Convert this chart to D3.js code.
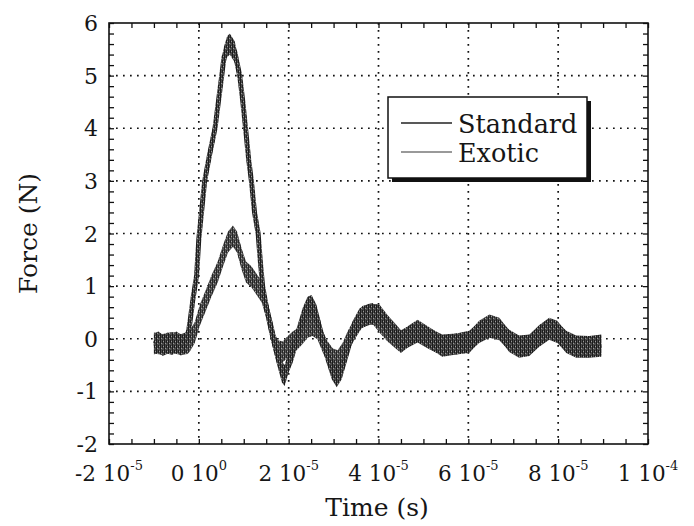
<!DOCTYPE html>
<html>
<head>
<meta charset="utf-8">
<script src="https://cdn.jsdelivr.net/npm/d3@7"></script>
<style>
  html, body { margin: 0; padding: 0; background: #fff; }
  svg { display: block; }
  text { font-family: "DejaVu Serif", "Liberation Serif", serif; fill: #161616; }
</style>
</head>
<body>
<svg id="chart" width="694" height="526"></svg>
<script>
// Force traces (N) against time (microseconds)
const standardTime = [-10, -9, -8, -7, -6, -5, -4, -3, -2.6, -2, -1.3, -0.5, 0, 1.3, 2.4, 3.6, 4.5, 5.1, 5.6, 6.3, 6.9, 8, 9.1, 9.8, 10.4, 11.1, 11.7, 12.4, 13.2, 13.7, 14.2, 15.1, 16.2, 17.3, 18.5, 19.1, 20, 20.9, 22, 23.1, 24.2, 25.1, 26.2, 27.3, 28.4, 29.6, 30.7, 31.8, 32.9, 34.2, 35.8, 38, 40.2, 42, 44, 45, 46.9, 48.7, 51.3, 54.2, 57.3, 60.2, 62.4, 64.7, 66.9, 69.1, 71.3, 73.6, 75.8, 78, 79.8, 81.8, 84, 86.9, 89.6];
const standardForce = [-0.1, -0.06, -0.13, -0.08, -0.11, -0.06, -0.12, -0.08, -0.02, 0.3, 0.76, 1.2, 1.9, 3.0, 3.5, 4.0, 4.6, 5.0, 5.35, 5.55, 5.6, 5.45, 5.0, 4.5, 4.0, 3.4, 3.0, 2.4, 2.0, 1.46, 1.0, 0.57, 0.13, -0.25, -0.63, -0.7, -0.44, -0.25, 0.06, 0.38, 0.6, 0.63, 0.44, 0.06, -0.25, -0.57, -0.72, -0.57, -0.25, 0.13, 0.38, 0.47, 0.45, 0.25, 0.06, -0.04, 0.05, 0.13, 0.0, -0.12, -0.1, -0.05, 0.12, 0.22, 0.17, -0.03, -0.14, -0.12, 0.05, 0.18, 0.12, -0.05, -0.14, -0.15, -0.12];

const exoticTime = [-10, -8, -6, -4, -2.5, -2, -0.9, 0.2, 1.7, 2.8, 4.2, 5.4, 6.5, 7.6, 8.5, 9.5, 10.5, 11.7, 12.8, 14, 15.1, 16.2, 16.9, 17.6, 18.7, 19.8, 20.9, 22, 23.1, 24.2, 25.3, 26.4, 27.6, 28.7, 29.8, 30.9, 32, 33.1, 34.7, 36.4, 38.7, 40.2, 42, 45, 46.9, 48.7, 51.3, 54.2, 57.3, 60.2, 62.4, 64.7, 66.9, 69.1, 71.3, 73.6, 75.8, 78, 79.8, 81.8, 84, 86.9, 89.6];
const exoticForce = [-0.08, -0.11, -0.07, -0.11, -0.09, -0.04, 0.12, 0.44, 0.76, 1.0, 1.27, 1.58, 1.84, 1.95, 1.84, 1.52, 1.27, 1.18, 1.04, 0.89, 0.57, 0.19, -0.1, -0.23, -0.25, -0.15, -0.06, 0.0, 0.1, 0.22, 0.25, 0.19, -0.06, -0.25, -0.38, -0.42, -0.28, -0.06, 0.19, 0.42, 0.48, 0.32, 0.15, -0.07, 0.06, 0.16, 0.02, -0.14, -0.1, -0.07, 0.14, 0.26, 0.2, -0.05, -0.16, -0.13, 0.06, 0.2, 0.14, -0.07, -0.16, -0.16, -0.14];

// Axis ticks
const xTickValues = [-20, 0, 20, 40, 60, 80, 100];
const xTickLabels = ["-2 10^-5", "0 10^0", "2 10^-5", "4 10^-5", "6 10^-5", "8 10^-5", "1 10^-4"];
const yTickValues = [-2, -1, 0, 1, 2, 3, 4, 5, 6];
const yTickLabels = ["-2", "-1", "0", "1", "2", "3", "4", "5", "6"];

const seriesNames = ["Standard", "Exotic"];
const noiseHalfWidth = 0.2; // measurement noise spread, N

const svg = d3.select("#chart");
const plot = { left: 109, right: 648, top: 23, bottom: 444 };

const x = d3.scaleLinear().domain([-20, 100]).range([plot.left, plot.right]);
const y = d3.scaleLinear().domain([-2, 6]).range([plot.bottom, plot.top]);

// Grainy fills for the noisy traces
const defs = svg.append("defs");
function noisePattern(id, base, dark, light) {
  const p = defs.append("pattern").attr("id", id)
    .attr("patternUnits", "userSpaceOnUse").attr("width", 4).attr("height", 5);
  p.append("rect").attr("width", 4).attr("height", 5).attr("fill", base);
  p.append("rect").attr("x", 0).attr("width", 1).attr("height", 5).attr("fill", dark);
  p.append("rect").attr("x", 2).attr("y", 0).attr("width", 1).attr("height", 3).attr("fill", dark);
  p.append("rect").attr("x", 3).attr("y", 1).attr("width", 1).attr("height", 1).attr("fill", light);
  p.append("rect").attr("x", 1).attr("y", 3).attr("width", 1).attr("height", 1).attr("fill", light);
}
noisePattern("grainStd", "#4a4a4a", "#1c1c1c", "#9a9a9a");
noisePattern("grainExo", "#555555", "#262626", "#a5a5a5");
defs.append("clipPath").attr("id", "plotClip").append("rect")
  .attr("x", plot.left).attr("y", plot.top)
  .attr("width", plot.right - plot.left).attr("height", plot.bottom - plot.top);

// Dotted grid
const grid = svg.append("g").attr("stroke", "#111").attr("stroke-width", 1.7)
  .attr("stroke-dasharray", "1.7 5.3");
grid.selectAll("line.v").data(xTickValues.slice(1, -1)).join("line")
  .attr("x1", d => x(d)).attr("x2", d => x(d))
  .attr("y1", plot.top).attr("y2", plot.bottom);
grid.selectAll("line.h").data(yTickValues.slice(1, -1)).join("line")
  .attr("x1", plot.left).attr("x2", plot.right)
  .attr("y1", d => y(d)).attr("y2", d => y(d));

// Traces
const traces = [
  { time: exoticTime, force: exoticForce, fill: "url(#grainExo)" },
  { time: standardTime, force: standardForce, fill: "url(#grainStd)" }
];
const traceLayer = svg.append("g").attr("clip-path", "url(#plotClip)");
traces.forEach(s => {
  const pts = s.time.map((t, i) => [t, s.force[i]]);
  const band = d3.area().x(d => x(d[0]))
    .y0(d => y(d[1] - noiseHalfWidth)).y1(d => y(d[1] + noiseHalfWidth));
  const line = d3.line().x(d => x(d[0])).y(d => y(d[1]));
  traceLayer.append("path").attr("d", band(pts)).attr("fill", s.fill);
  traceLayer.append("path").attr("d", line(pts)).attr("fill", "none")
    .attr("stroke", s.fill).attr("stroke-width", 5).attr("stroke-linejoin", "round");
});

// Axes with inward ticks on all four sides
const xMinor = d3.range(-20, 100.001, 5);
const yMinor = d3.range(-2, 6.001, 0.2);
const inward = (scale, ticks, orient) =>
  orient(scale).tickValues(ticks).tickFormat("").tickSizeInner(-5).tickSizeOuter(0);
const axisStyle = g => {
  g.select(".domain").remove();
  g.selectAll(".tick line").attr("stroke", "#111").attr("stroke-width", 1.3);
};
svg.append("g").attr("transform", `translate(0,${plot.bottom})`)
  .call(inward(x, xMinor, d3.axisBottom)).call(axisStyle);
svg.append("g").attr("transform", `translate(0,${plot.top})`)
  .call(inward(x, xMinor, d3.axisTop)).call(axisStyle);
svg.append("g").attr("transform", `translate(${plot.left},0)`)
  .call(inward(y, yMinor, d3.axisLeft)).call(axisStyle);
svg.append("g").attr("transform", `translate(${plot.right},0)`)
  .call(inward(y, yMinor, d3.axisRight)).call(axisStyle);

// Frame
svg.append("rect").attr("x", plot.left).attr("y", plot.top)
  .attr("width", plot.right - plot.left).attr("height", plot.bottom - plot.top)
  .attr("fill", "none").attr("stroke", "#111").attr("stroke-width", 1.6);

// X tick labels with exponent superscripts
svg.append("g").selectAll("text").data(xTickValues).join("text")
  .attr("x", d => x(d)).attr("y", plot.bottom + 37)
  .attr("text-anchor", "middle").attr("font-size", 21.5)
  .each(function (d, i) {
    const [mant, exp] = xTickLabels[i].split("^");
    const t = d3.select(this);
    t.append("tspan").text(mant);
    t.append("tspan").attr("dy", -11).attr("font-size", 13).text(exp);
  });

// Y tick labels
svg.append("g").selectAll("text").data(yTickValues).join("text")
  .attr("x", plot.left - 11).attr("y", d => y(d) + 8)
  .attr("text-anchor", "end").attr("font-size", 22)
  .text((d, i) => yTickLabels[i]);

// Axis titles
svg.append("text").attr("x", 377).attr("y", 516)
  .attr("text-anchor", "middle").attr("font-size", 25).text("Time (s)");
svg.append("text").attr("transform", `translate(37,${(plot.top + plot.bottom) / 2}) rotate(-90)`)
  .attr("text-anchor", "middle").attr("font-size", 25).text("Force (N)");

// Legend with drop shadow
const lg = svg.append("g").attr("transform", "translate(388,97)");
lg.append("rect").attr("x", 4).attr("y", 4).attr("width", 199).attr("height", 81).attr("fill", "#111");
lg.append("rect").attr("width", 199).attr("height", 81).attr("fill", "#fff")
  .attr("stroke", "#111").attr("stroke-width", 1.5);
const legendStroke = ["#222", "#777"];
seriesNames.forEach((name, i) => {
  const yy = 26 + i * 29;
  lg.append("line").attr("x1", 13).attr("x2", 64).attr("y1", yy).attr("y2", yy)
    .attr("stroke", legendStroke[i]).attr("stroke-width", 1.6);
  lg.append("text").attr("x", 70).attr("y", yy + 10).attr("font-size", 25.5)
    .attr("fill", i === 0 ? "#161616" : "#444").text(name);
});
</script>
</body>
</html>
